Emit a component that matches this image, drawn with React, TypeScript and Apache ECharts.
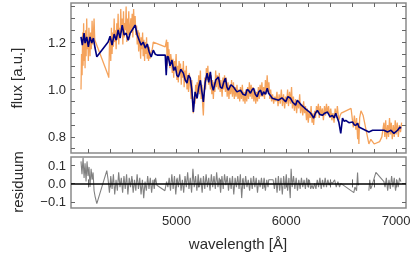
import React, { useEffect, useRef } from "react";
import * as echarts from "echarts";

// observed spectrum [wavelength Å, flux]
const observed: [number, number][] = [
  [4131,1.00],[4136,1.15],[4141,1.06],[4146,1.24],[4150,1.10],[4155,1.28],[4159,1.12],[4164,1.20],[4168,1.09],[4173,1.25],
  [4178,1.14],[4183,1.30],[4188,1.17],[4193,1.22],[4198,1.12],[4203,1.26],[4208,1.20],[4213,1.14],[4218,1.24],[4225,1.17],
  [4232,1.29],[4238,1.19],[4244,1.23],[4250,1.30],[4256,1.21],[4378,1.06],[4384,1.05],[4390,1.18],[4396,1.22],[4402,1.12],
  [4408,1.26],[4414,1.15],[4420,1.24],[4426,1.18],[4433,1.30],[4439,1.20],[4445,1.25],[4451,1.17],[4457,1.28],[4463,1.21],
  [4469,1.32],[4475,1.19],[4481,1.26],[4487,1.22],[4493,1.34],[4499,1.24],[4506,1.30],[4512,1.19],[4518,1.33],[4524,1.22],
  [4530,1.28],[4536,1.25],[4542,1.35],[4548,1.20],[4554,1.30],[4560,1.23],[4566,1.33],[4572,1.21],[4579,1.26],[4585,1.30],
  [4591,1.24],[4597,1.32],[4603,1.22],[4610,1.34],[4616,1.26],[4624,1.31],[4630,1.23],[4637,1.27],[4643,1.19],[4650,1.25],
  [4656,1.16],[4661,1.24],[4668,1.20],[4674,1.13],[4679,1.22],[4686,1.17],[4692,1.24],[4697,1.14],[4704,1.21],[4710,1.12],
  [4716,1.20],[4722,1.15],[4728,1.22],[4734,1.13],[4740,1.19],[4746,1.12],[4752,1.18],[4760,1.13],[4770,1.16],[4780,1.17],
  [4789,1.20],[4898,1.18],[4903,1.18],[4910,1.21],[4916,1.10],[4922,1.20],[4926,1.14],[4932,1.17],[4940,1.09],[4948,1.15],
  [4955,1.12],[4962,1.07],[4968,1.13],[4975,1.05],[4982,1.12],[4990,1.08],[4997,1.15],[5004,1.04],[5010,1.10],[5017,1.03],
  [5024,1.12],[5030,1.06],[5037,1.11],[5044,1.02],[5050,1.09],[5057,1.05],[5063,1.12],[5070,1.01],[5077,1.08],[5084,1.04],
  [5090,1.10],[5096,1.00],[5103,1.06],[5110,0.99],[5117,1.07],[5126,1.02],[5133,0.96],[5140,1.04],[5147,0.93],[5154,0.90],
  [5161,0.97],[5168,0.94],[5175,1.02],[5182,0.96],[5188,1.03],[5195,0.99],[5203,1.06],[5210,0.98],[5218,1.08],[5225,0.96],
  [5232,1.02],[5238,0.94],[5245,0.89],[5252,0.98],[5258,1.05],[5265,1.00],[5272,1.09],[5279,1.04],[5286,1.10],[5293,1.02],
  [5300,1.07],[5309,1.00],[5316,1.06],[5322,0.98],[5329,1.04],[5336,0.96],[5343,1.03],[5350,0.99],[5357,1.08],[5364,1.01],
  [5372,1.06],[5382,1.00],[5390,1.07],[5398,0.99],[5405,1.04],[5416,0.97],[5423,1.05],[5430,1.00],[5438,1.06],[5446,0.99],
  [5454,1.05],[5462,0.97],[5470,1.03],[5478,0.96],[5486,1.02],[5494,0.98],[5502,1.04],[5510,0.97],[5519,1.03],[5527,0.96],
  [5535,1.01],[5543,0.97],[5551,1.02],[5560,0.96],[5568,1.00],[5576,0.95],[5583,1.01],[5592,0.96],[5600,1.02],[5608,0.95],
  [5616,0.99],[5624,0.94],[5632,1.00],[5640,0.95],[5648,1.01],[5656,0.96],[5664,1.03],[5672,0.97],[5680,1.02],[5688,0.96],
  [5696,1.01],[5705,0.95],[5713,1.00],[5722,0.94],[5730,0.99],[5738,0.95],[5746,1.01],[5754,0.96],[5762,1.02],[5770,0.97],
  [5778,1.03],[5786,0.97],[5794,1.01],[5802,0.96],[5810,1.04],[5818,0.98],[5826,1.06],[5834,0.99],[5842,1.03],[5850,0.96],
  [5858,1.00],[5866,0.95],[5875,0.98],[5885,0.94],[5895,0.97],[5905,0.95],[5915,0.99],[5925,0.93],[5935,0.98],[5945,0.94],
  [5955,1.00],[5965,0.93],[5975,0.98],[5985,0.92],[5994,0.97],[6003,0.94],[6012,1.00],[6020,0.93],[6030,0.99],[6039,0.94],
  [6048,1.01],[6056,0.92],[6065,0.97],[6074,0.91],[6085,0.96],[6094,0.90],[6103,0.95],[6113,0.92],[6122,0.98],[6130,0.90],
  [6140,0.94],[6150,0.89],[6158,0.95],[6166,0.90],[6175,0.93],[6184,0.87],[6192,0.92],[6200,0.86],[6210,0.91],[6218,0.88],
  [6226,0.93],[6235,0.86],[6242,0.90],[6249,0.85],[6258,0.91],[6266,0.88],[6275,0.93],[6283,0.90],[6292,0.94],[6300,0.88],
  [6310,0.93],[6320,0.89],[6329,0.92],[6338,0.87],[6348,0.93],[6357,0.89],[6366,0.94],[6375,0.90],[6385,0.93],[6395,0.88],
  [6405,0.92],[6415,0.87],[6425,0.90],[6435,0.86],[6445,0.92],[6455,0.88],[6465,0.93],[6478,0.87],[6490,0.89],[6500,0.90],
  [6590,0.92],[6600,0.88],[6610,0.84],[6620,0.89],[6633,0.83],[6640,0.88],[6650,0.79],[6655,0.86],[6661,0.77],[6668,0.88],
  [6680,0.91],[6700,0.89],[6752,0.77],[6770,0.79],[6800,0.77],[6850,0.78],[6870,0.80],[6889,0.86],[6897,0.80],[6905,0.87],
  [6913,0.79],[6923,0.85],[6931,0.80],[6940,0.88],[6948,0.81],[6956,0.86],[6965,0.79],[6974,0.85],[6983,0.80],[6992,0.87],
  [7000,0.81],[7010,0.86],[7020,0.80],[7030,0.85],[7040,0.82],[7050,0.86],
];

// model spectrum [wavelength Å, flux]
const model: [number, number][] = [
  [4131,1.222],[4143,1.187],[4159,1.238],[4168,1.196],[4183,1.222],[4198,1.180],[4213,1.222],[4229,1.196],[4244,1.217],[4259,1.175],
  [4275,1.138],[4378,1.200],[4396,1.225],[4414,1.187],[4433,1.234],[4451,1.208],[4469,1.251],[4487,1.217],[4506,1.272],[4524,1.230],
  [4542,1.238],[4560,1.208],[4579,1.238],[4597,1.251],[4624,1.272],[4643,1.230],[4661,1.208],[4679,1.187],[4697,1.200],[4716,1.175],
  [4734,1.192],[4752,1.158],[4770,1.137],[4789,1.166],[4807,1.149],[4825,1.145],[4898,1.145],[4907,1.060],[4916,1.140],[4926,1.137],
  [4942,1.100],[4959,1.124],[4975,1.080],[4990,1.096],[5004,1.060],[5017,1.053],[5040,1.085],[5063,1.069],[5080,1.040],[5096,1.027],
  [5110,1.060],[5126,1.048],[5140,1.000],[5154,0.905],[5170,0.990],[5188,0.963],[5203,1.010],[5218,1.039],[5232,0.990],[5245,0.948],
  [5262,1.030],[5279,1.069],[5294,1.030],[5309,1.074],[5322,1.020],[5336,0.997],[5358,1.040],[5382,1.053],[5400,1.010],[5416,1.005],
  [5430,1.030],[5446,1.048],[5460,1.010],[5473,0.997],[5496,1.020],[5519,1.011],[5550,0.990],[5583,0.997],[5606,0.980],[5629,0.976],
  [5643,1.000],[5656,0.997],[5674,0.984],[5690,1.000],[5702,1.005],[5718,0.980],[5735,0.969],[5750,0.990],[5766,0.997],[5780,0.975],
  [5793,0.990],[5810,0.980],[5827,1.005],[5839,0.984],[5855,0.975],[5872,0.963],[5930,0.955],[5960,0.965],[5994,0.948],[6015,0.970],
  [6039,0.963],[6060,0.945],[6085,0.934],[6100,0.955],[6113,0.948],[6135,0.935],[6158,0.926],[6175,0.918],[6192,0.912],[6210,0.905],
  [6222,0.900],[6236,0.890],[6249,0.879],[6265,0.900],[6283,0.912],[6305,0.895],[6329,0.891],[6350,0.900],[6375,0.905],[6398,0.885],
  [6420,0.891],[6435,0.880],[6450,0.900],[6465,0.880],[6478,0.863],[6496,0.815],[6512,0.879],[6528,0.865],[6542,0.870],[6570,0.860],
  [6603,0.863],[6620,0.850],[6633,0.849],[6649,0.858],[6661,0.842],[6752,0.821],[6786,0.828],[6889,0.828],[6923,0.821],[6953,0.828],
  [6980,0.815],[7014,0.828],[7035,0.842],[7044,0.836],
];

// residuum [wavelength Å, value]; null marks a gap
const residuum: [number, number | null][] = [
  [4131,0.12],[4140,0.05],[4150,0.14],[4159,0.03],[4168,0.11],[4177,0.01],[4186,0.12],[4195,0.04],[4204,0.09],[4213,-0.02],
  [4223,0.08],[4232,0.02],[4241,0.06],[4250,-0.04],[4259,-0.07],[4275,-0.11],[4366,0.07],[4378,0.02],[4390,-0.05],[4402,0.04],
  [4414,-0.03],[4426,0.05],[4438,-0.06],[4450,0.02],[4462,-0.04],[4474,0.06],[4486,-0.02],[4498,0.03],[4510,-0.05],[4522,0.04],
  [4534,-0.03],[4546,0.05],[4558,-0.06],[4570,0.03],[4582,-0.02],[4594,0.04],[4606,-0.05],[4618,0.02],[4630,-0.04],[4642,0.05],
  [4654,-0.03],[4666,0.03],[4678,-0.06],[4690,0.02],[4702,-0.08],[4714,0.01],[4726,-0.04],[4738,0.04],[4750,-0.03],[4762,0.03],
  [4774,-0.05],[4786,0.02],[4798,-0.03],[4810,0.03],[4822,-0.01],[4895,-0.04],[4910,0.01],[4922,-0.02],[4934,0.03],[4946,-0.04],
  [4958,0.05],[4970,-0.03],[4982,0.04],[4994,-0.06],[5006,0.03],[5018,-0.02],[5030,0.05],[5042,-0.04],[5054,0.02],[5066,-0.05],
  [5078,0.04],[5090,-0.02],[5102,0.06],[5114,-0.03],[5126,0.03],[5138,-0.05],[5150,0.08],[5162,-0.02],[5174,0.04],[5186,-0.04],
  [5198,0.05],[5210,-0.02],[5222,0.03],[5234,-0.05],[5246,0.04],[5258,-0.03],[5270,0.05],[5282,-0.02],[5294,0.03],[5306,-0.04],
  [5318,0.05],[5330,-0.02],[5342,0.04],[5354,-0.03],[5366,0.06],[5378,-0.02],[5390,0.03],[5402,-0.05],[5414,0.04],[5426,-0.03],
  [5438,0.05],[5450,-0.01],[5462,0.04],[5474,-0.04],[5486,0.03],[5498,-0.03],[5510,0.04],[5522,-0.06],[5534,0.03],[5546,-0.02],
  [5558,0.04],[5570,-0.03],[5582,0.05],[5594,-0.08],[5606,0.03],[5618,-0.03],[5630,0.04],[5642,-0.02],[5654,0.02],[5666,-0.04],
  [5678,0.03],[5690,-0.03],[5702,0.04],[5714,-0.02],[5726,0.03],[5738,-0.05],[5750,0.02],[5762,-0.02],[5774,0.03],[5786,-0.03],
  [5798,0.03],[5810,-0.04],[5822,0.02],[5834,-0.02],[5840,0.02],[5880,0.02],[5892,-0.03],[5904,0.03],[5916,-0.05],[5928,0.04],
  [5940,-0.04],[5952,0.03],[5964,-0.06],[5976,0.04],[5988,-0.03],[6000,0.05],[6012,-0.04],[6024,0.03],[6036,-0.08],[6044,0.08],
  [6054,-0.02],[6066,0.04],[6078,-0.03],[6090,0.03],[6102,-0.04],[6114,0.02],[6126,-0.03],[6138,0.03],[6150,-0.02],[6162,0.02],
  [6174,-0.03],[6186,0.03],[6198,-0.02],[6210,0.02],[6222,-0.03],[6234,-0.01],[6246,-0.03],[6258,0.00],[6270,-0.03],[6282,0.02],
  [6294,-0.02],[6306,0.03],[6318,-0.03],[6330,0.02],[6342,-0.02],[6354,0.03],[6366,-0.02],[6378,0.02],[6390,-0.01],[6402,0.01],
  [6420,0.00],[6440,0.02],[6455,-0.02],[6470,0.01],[6485,-0.02],[6496,0.00],[6615,-0.05],[6625,-0.02],[6640,-0.04],[6649,0.06],
  [6655,-0.01],[6661,0.00],[6700,null],[6752,-0.04],[6760,0.02],[6768,-0.03],[6776,-0.02],[6816,0.06],[6889,0.01],[6899,-0.02],
  [6911,0.03],[6923,-0.04],[6935,0.02],[6947,-0.03],[6959,0.04],[6971,-0.02],[6983,0.03],[6995,-0.04],[7007,0.02],[7019,-0.02],
  [7031,0.03],[7044,0.01],
];

const xLabelValues = [5000, 6000, 7000];
const xTickValues = [4200, 4400, 4600, 4800, 5000, 5200, 5400, 5600, 5800, 6000, 6200, 6400, 6600, 6800, 7000];
const fluxLabelValues = [0.8, 1.0, 1.2];
const fluxTickValues = [0.75, 0.8, 0.85, 0.9, 0.95, 1.0, 1.05, 1.1, 1.15, 1.2, 1.25, 1.3, 1.35];
const residLabelValues = [-0.1, 0, 0.1];
const residTickValues = [-0.1, 0, 0.1];

const X_MIN = 4040;
const X_MAX = 7090;

const FONT = "Liberation Sans";
const FRAME = "#8a8a8a";
const TICK = "#666666";
const TEXT = "#2b2b2b";

export default function App() {
  const ref = useRef<HTMLDivElement>(null);
  useEffect(() => {
    if (!ref.current) return;
    const chart = echarts.init(ref.current, undefined, { renderer: "svg" });
    const tick = (values: number[]) => ({
      show: true,
      inside: true,
      length: 4,
      customValues: values,
      lineStyle: { color: TICK, width: 1 },
    });
    const xAx = (grid: number, pos: string, labels: boolean) => ({
      type: "value",
      gridIndex: grid,
      position: pos,
      min: X_MIN,
      max: X_MAX,
      axisLine: { show: false },
      splitLine: { show: false },
      axisTick: tick(xTickValues),
      axisLabel: labels
        ? { show: true, customValues: xLabelValues, margin: 6, fontFamily: FONT, fontSize: 13, color: TEXT, formatter: (v: number) => String(Math.round(v)) }
        : { show: false },
    });
    const yAx = (grid: number, pos: string, min: number, max: number, ticks: number[], labels: number[] | null, fmt?: (v: number) => string) => ({
      type: "value",
      gridIndex: grid,
      position: pos,
      min,
      max,
      axisLine: { show: false },
      splitLine: { show: false },
      axisTick: tick(ticks),
      axisLabel: labels
        ? { show: true, customValues: labels, margin: 5, fontFamily: FONT, fontSize: 13, color: TEXT, formatter: fmt }
        : { show: false },
    });
    const residFmt = (v: number) => (v < -1e-9 ? "\u2212" : "") + Math.abs(v).toFixed(1);
    chart.setOption({
      animation: false,
      grid: [
        { left: 71, top: 3, width: 335, height: 150, show: true, borderColor: FRAME, borderWidth: 1.5, backgroundColor: "transparent" },
        { left: 71, top: 157, width: 335, height: 51, show: true, borderColor: FRAME, borderWidth: 1.5, backgroundColor: "transparent" },
      ],
      xAxis: [xAx(0, "bottom", false), xAx(0, "top", false), xAx(1, "bottom", true), xAx(1, "top", false)],
      yAxis: [
        yAx(0, "left", 0.732, 1.365, fluxTickValues, fluxLabelValues, (v: number) => v.toFixed(1)),
        yAx(0, "right", 0.732, 1.365, fluxTickValues, null),
        yAx(1, "left", -0.134, 0.144, residTickValues, residLabelValues, residFmt),
        yAx(1, "right", -0.134, 0.144, residTickValues, null),
      ],
      series: [
        {
          type: "line",
          xAxisIndex: 0,
          yAxisIndex: 0,
          data: observed,
          showSymbol: false,
          lineStyle: { color: "#f5a35c", width: 1.3 },
          z: 2,
        },
        {
          type: "line",
          xAxisIndex: 0,
          yAxisIndex: 0,
          data: model,
          showSymbol: false,
          lineStyle: { color: "#000080", width: 1.6 },
          z: 3,
        },
        {
          type: "line",
          xAxisIndex: 2,
          yAxisIndex: 2,
          data: residuum,
          showSymbol: false,
          connectNulls: false,
          lineStyle: { color: "#808080", width: 1.1 },
          z: 2,
          markLine: {
            silent: true,
            symbol: ["none", "none"],
            label: { show: false },
            lineStyle: { color: "#000000", width: 1.5, type: "solid" },
            data: [{ yAxis: 0 }],
          },
        },
      ],
      graphic: [
        { type: "text", x: 16, y: 78, rotation: Math.PI / 2, style: { text: "flux [a.u.]", fontFamily: FONT, fontSize: 15, fill: TEXT, align: "center", verticalAlign: "middle" } },
        { type: "text", x: 17, y: 182, rotation: Math.PI / 2, style: { text: "residuum", fontFamily: FONT, fontSize: 15, fill: TEXT, align: "center", verticalAlign: "middle" } },
        { type: "text", x: 238, y: 243, style: { text: "wavelength [Å]", fontFamily: FONT, fontSize: 15, fill: TEXT, align: "center", verticalAlign: "middle" } },
      ],
    });
    return () => chart.dispose();
  }, []);
  return <div ref={ref} style={{ position: "fixed", left: 0, top: 0, width: 415, height: 256 }} />;
}
